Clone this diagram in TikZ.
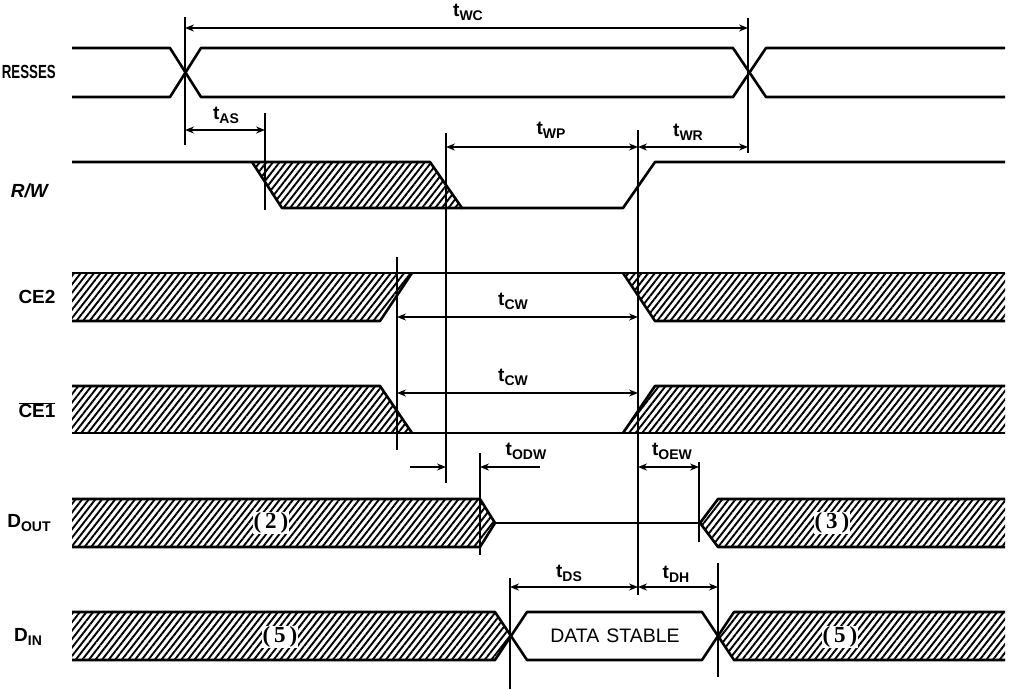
\documentclass[tikz,border=0pt]{standalone}
\usepackage{fontspec}
\setmainfont{Liberation Sans}
\newfontfamily\numfont{Liberation Serif}
\usetikzlibrary{arrows.meta,patterns.meta}
\newcommand\tsub[1]{t\raisebox{-4pt}{\fontsize{14}{14}\selectfont #1}}
\newcommand\dsub[2]{#1\raisebox{-3.5pt}{\fontsize{14}{14}\selectfont #2}}
\tikzset{
  sig/.style={line width=2.6pt, line join=round},
  mk/.style={line width=1.6pt},
  dim/.style={line width=1.6pt, {Stealth[length=9pt,width=7pt,inset=3pt]}-{Stealth[length=9pt,width=7pt,inset=3pt]}},
  dimr/.style={line width=1.6pt, -{Stealth[length=9pt,width=7pt,inset=3pt]}},
  hatch/.style={pattern={Lines[angle=52,distance=5.2pt,line width=1.9pt]}},
  sname/.style={font=\fontsize{19}{20}\selectfont\bfseries, inner sep=0pt},
  tl/.style={font=\fontsize{19}{20}\selectfont\bfseries, inner sep=0pt},
  num/.style={font=\fontsize{23}{23}\selectfont\numfont\bfseries, fill=white, inner sep=1pt},
}
\begin{document}
\begin{tikzpicture}[x=1pt,y=-1pt]
\useasboundingbox (0,0) rectangle (1011,689);
% ---------- signal names ----------
\node[sname, anchor=east] (nA) at (56,72) {\scalebox{0.7}[1]{RESSES}};
\node[sname] (nRW) at (30,191) {\textit{R/W}};
\node[sname] (nCE2) at (37,297) {CE2};
\node[sname] (nCE1) at (37,410) {$\overline{\hbox{CE1}}$};
\node[sname] (nDO) at (29,523) {\dsub{D}{OUT}};
\node[sname] (nDI) at (28,637) {\dsub{D}{IN}};
% ---------- ADDRESSES ----------
\draw[sig] (72,48) -- (170,48) -- (201,97) -- (733,97) -- (766,48) -- (1005,48);
\draw[sig] (72,97) -- (170,97) -- (201,48) -- (733,48) -- (766,97) -- (1005,97);
% ---------- R/W ----------
\fill[hatch] (252,162) -- (430,162) -- (462,208) -- (282,208) -- cycle;
\draw[sig] (72,162) -- (430,162) -- (462,208) -- (623,208) -- (655,162) -- (1005,162);
\draw[sig] (252,162) -- (282,208) -- (462,208);
% ---------- CE2 ----------
\fill[hatch] (72,273) -- (412,273) -- (380,321) -- (72,321) -- cycle;
\fill[hatch] (623,273) -- (1005,273) -- (1005,321) -- (655,321) -- cycle;
\draw[sig] (72,273) -- (1005,273);
\draw[sig] (72,321) -- (380,321) -- (412,273);
\draw[sig] (623,273) -- (655,321) -- (1005,321);
% ---------- CE1 ----------
\fill[hatch] (72,386) -- (380,386) -- (412,433) -- (72,433) -- cycle;
\fill[hatch] (655,386) -- (1005,386) -- (1005,433) -- (623,433) -- cycle;
\draw[sig] (72,433) -- (1005,433);
\draw[sig] (72,386) -- (380,386) -- (412,433);
\draw[sig] (623,433) -- (655,386) -- (1005,386);
% ---------- DOUT ----------
\fill[hatch] (72,499) -- (480,499) -- (495,523) -- (480,547) -- (72,547) -- cycle;
\fill[hatch] (700,523) -- (718,499) -- (1005,499) -- (1005,547) -- (718,547) -- cycle;
\draw[sig] (72,499) -- (480,499) -- (495,523) -- (480,547) -- (72,547);
\draw[sig] (495,523) -- (700,523);
\draw[sig] (1005,499) -- (718,499) -- (700,523) -- (718,547) -- (1005,547);
% ---------- DIN ----------
\fill[hatch] (72,612) -- (495,612) -- (511,636) -- (495,660) -- (72,660) -- cycle;
\fill[hatch] (718,636) -- (734,612) -- (1005,612) -- (1005,660) -- (734,660) -- cycle;
\draw[sig] (72,612) -- (495,612) -- (527,660) -- (702,660) -- (734,612) -- (1005,612);
\draw[sig] (72,660) -- (495,660) -- (527,612) -- (702,612) -- (734,660) -- (1005,660);
% ---------- data labels ----------
\node[num] (d2) at (271,523) {(\hspace{4pt}2\hspace{4pt})};
\node[num] (d3) at (832,523) {(\hspace{4pt}3\hspace{4pt})};
\node[num] (d5a) at (280,637) {(\hspace{4pt}5\hspace{4pt})};
\node[num] (d5b) at (840,637) {(\hspace{4pt}5\hspace{4pt})};
\node[font=\fontsize{19.5}{20}\selectfont, inner sep=0pt] (ds) at (615,636) {DATA\hspace{7pt}STABLE};
% ---------- marker lines ----------
\coordinate (m1t) at (185,17);  \coordinate (m1b) at (185,145);
\coordinate (m2t) at (748,18);  \coordinate (m2b) at (748,153);
\coordinate (m3t) at (265,113); \coordinate (m3b) at (265,210);
\coordinate (m4t) at (446,133); \coordinate (m4b) at (446,483);
\coordinate (m5t) at (638,130); \coordinate (m5b) at (638,595);
\coordinate (m6t) at (397,257); \coordinate (m6b) at (397,450);
\coordinate (m7t) at (480,453); \coordinate (m7b) at (480,555);
\coordinate (m8t) at (699,462); \coordinate (m8b) at (699,542);
\coordinate (m9t) at (510,578); \coordinate (m9b) at (510,689);
\coordinate (m10t) at (718,563); \coordinate (m10b) at (718,677);
\foreach \i in {1,...,10} { \draw[mk] (m\i t) -- (m\i b); }
% ---------- dimension arrows ----------
\coordinate (wcL) at (185,28);  \coordinate (wcR) at (748,28);
\draw[dim] (wcL) -- (wcR);
\node[tl] (lwc) at (468,12) {\tsub{WC}};
\coordinate (asL) at (185,130); \coordinate (asR) at (265,130);
\draw[dim] (asL) -- (asR);
\node[tl] (las) at (226,115) {\tsub{AS}};
\coordinate (wpL) at (446,147); \coordinate (wpR) at (638,147);
\draw[dim] (wpL) -- (wpR);
\node[tl] (lwp) at (551,130) {\tsub{WP}};
\coordinate (wrR) at (748,147);
\draw[dim] (wpR) -- (wrR);
\node[tl] (lwr) at (688,132) {\tsub{WR}};
\coordinate (cwaL) at (397,317); \coordinate (cwaR) at (638,317);
\draw[dim] (cwaL) -- (cwaR);
\node[tl] (lcwa) at (513,301) {\tsub{CW}};
\coordinate (cwbL) at (397,393); \coordinate (cwbR) at (638,393);
\draw[dim] (cwbL) -- (cwbR);
\node[tl] (lcwb) at (513,377) {\tsub{CW}};
\coordinate (odA) at (410,467); \coordinate (odB) at (446,467);
\coordinate (odC) at (540,467); \coordinate (odD) at (480,467);
\draw[dimr] (odA) -- (odB);
\draw[dimr] (odC) -- (odD);
\node[tl] (lod) at (526,451) {\tsub{ODW}};
\coordinate (oeL) at (638,467); \coordinate (oeR) at (699,467);
\draw[dim] (oeL) -- (oeR);
\node[tl] (loe) at (672,451) {\tsub{OEW}};
\coordinate (dsL) at (510,587); \coordinate (dsR) at (638,587); \coordinate (dhR) at (718,587);
\draw[dim] (dsL) -- (dsR);
\draw[dim] (dsR) -- (dhR);
\node[tl] (lds) at (569,573) {\tsub{DS}};
\node[tl] (ldh) at (676,574) {\tsub{DH}};
\end{tikzpicture}
\end{document}
